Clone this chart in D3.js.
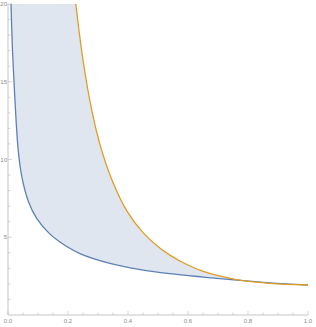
<!DOCTYPE html>
<html>
<head>
<meta charset="utf-8">
<script src="https://cdn.jsdelivr.net/npm/d3@7"></script>
<style>
  html, body { margin: 0; padding: 0; background: #fff; }
  svg { display: block; }
  .tick-label { font-family: "Liberation Sans", Arial, sans-serif; font-size: 6px; fill: #8a8a8a; }
</style>
</head>
<body>
<div id="chart"></div>
<script>
// blue curve (lower)
const blueX = [0.010, 0.014, 0.020, 0.034, 0.046, 0.068, 0.096, 0.140, 0.173, 0.240, 0.340, 0.451, 0.540, 0.651, 0.762, 0.873, 1.000];
const blueY = [20.0, 17.5, 15.0, 10.6, 8.9, 7.3, 6.2, 5.2, 4.7, 3.95, 3.32, 2.89, 2.66, 2.44, 2.24, 2.07, 1.93];

// orange curve (upper)
const orangeX = [0.226, 0.250, 0.280, 0.312, 0.351, 0.396, 0.451, 0.507, 0.540, 0.573, 0.651, 0.762, 0.873, 1.000];
const orangeY = [20.0, 16.4, 13.1, 10.6, 8.47, 6.7, 5.28, 4.29, 3.85, 3.47, 2.8, 2.28, 2.04, 1.93];

const xTicks = [0, 0.2, 0.4, 0.6, 0.8, 1.0];
const yTicks = [5, 10, 15, 20];

const width = 316, height = 327;

const x = d3.scaleLinear().domain([0, 1]).range([8, 308]);
const y = d3.scaleLinear().domain([0, 20]).range([315, 4]);

const svg = d3.select("#chart").append("svg")
    .attr("width", width)
    .attr("height", height);

const blue = blueX.map((v, i) => [v, blueY[i]]);
const orange = orangeX.map((v, i) => [v, orangeY[i]]);

const curve = d3.curveCatmullRom.alpha(0.5);

const line = d3.line()
    .x(d => x(d[0]))
    .y(d => y(d[1]))
    .curve(curve);

// clip: everything under the orange curve, plus the strip left of where orange leaves the top
const defs = svg.append("defs");
const clip = defs.append("clipPath").attr("id", "under-orange");
clip.append("path")
    .attr("d", d3.area()
        .x(d => x(d[0]))
        .y0(y(0))
        .y1(d => y(d[1]))
        .curve(curve)(orange));
clip.append("rect")
    .attr("x", x(0))
    .attr("y", y(20))
    .attr("width", x(orangeX[0]) - x(0) + 0.5)
    .attr("height", y(0) - y(20));

// filling between the curves
svg.append("path")
    .attr("clip-path", "url(#under-orange)")
    .attr("fill", "#dfe6f0")
    .attr("d", d3.area()
        .x(d => x(d[0]))
        .y0(d => y(d[1]))
        .y1(y(20))
        .curve(curve)(blue));

// axes
const axisColor = "#b8b8b8";
const ax = svg.append("g");

ax.append("line")
    .attr("x1", x(0)).attr("x2", x(1))
    .attr("y1", y(0)).attr("y2", y(0))
    .attr("stroke", axisColor).attr("stroke-width", 0.8);
ax.append("line")
    .attr("x1", x(0)).attr("x2", x(0))
    .attr("y1", y(0)).attr("y2", y(20))
    .attr("stroke", axisColor).attr("stroke-width", 0.8);

// x ticks: major every 0.2, minor every 0.05
d3.range(0, 1.0001, 0.05).forEach(v => {
    const major = Math.abs(v * 5 - Math.round(v * 5)) < 1e-6;
    ax.append("line")
        .attr("x1", x(v)).attr("x2", x(v))
        .attr("y1", y(0)).attr("y2", y(0) - (major ? 4 : 2.5))
        .attr("stroke", axisColor).attr("stroke-width", 0.6);
});
// y ticks: major every 5, minor every 1
d3.range(1, 21).forEach(v => {
    const major = v % 5 === 0;
    ax.append("line")
        .attr("x1", x(0)).attr("x2", x(0) + (major ? 4 : 2.5))
        .attr("y1", y(v)).attr("y2", y(v))
        .attr("stroke", axisColor).attr("stroke-width", 0.6);
});

ax.selectAll(".xl")
    .data(xTicks)
    .enter()
    .append("text")
    .attr("class", "tick-label")
    .attr("x", d => x(d))
    .attr("y", y(0) + 8.3)
    .attr("text-anchor", "middle")
    .text(d => d.toFixed(1));

ax.selectAll(".yl")
    .data(yTicks)
    .enter()
    .append("text")
    .attr("class", "tick-label")
    .attr("x", x(0) - 1)
    .attr("y", d => y(d))
    .attr("dy", "0.35em")
    .attr("text-anchor", "end")
    .text(d => d);

// curves
svg.append("path")
    .attr("d", line(blue))
    .attr("fill", "none")
    .attr("stroke", "#5e81b5")
    .attr("stroke-width", 1.3);

svg.append("path")
    .attr("d", line(orange))
    .attr("fill", "none")
    .attr("stroke", "#e19c24")
    .attr("stroke-width", 1.3);
</script>
</body>
</html>
